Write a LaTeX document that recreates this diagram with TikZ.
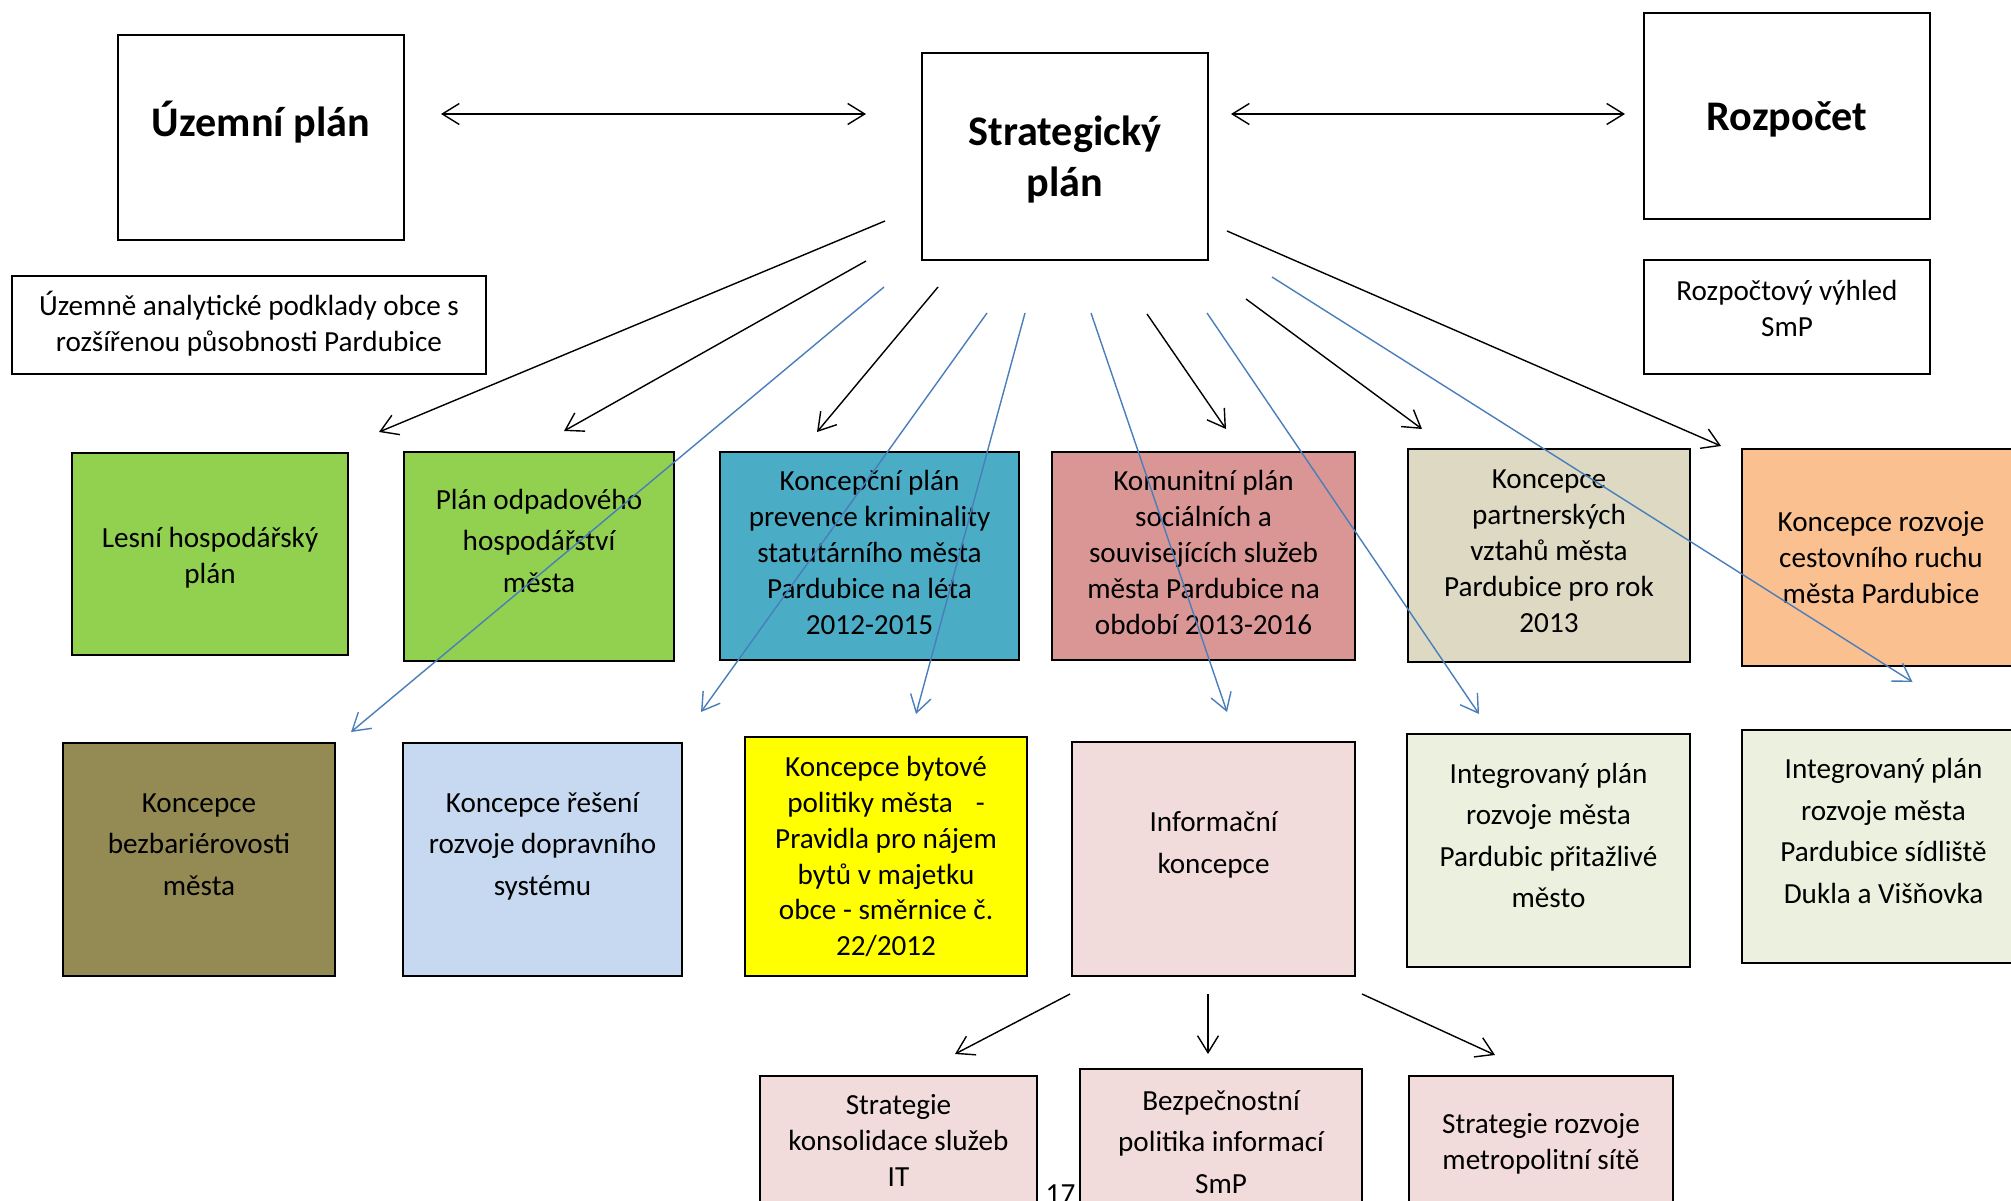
\documentclass[tikz,border=0pt]{standalone}
\usepackage{fontspec}
\setmainfont{Carlito}
\usetikzlibrary{arrows.meta}

\definecolor{leafgreen}{HTML}{92D050}
\definecolor{teal}{HTML}{4BACC6}
\definecolor{rose}{HTML}{D99694}
\definecolor{tan}{HTML}{DDD9C3}
\definecolor{apricot}{HTML}{FAC090}
\definecolor{olive}{HTML}{948A54}
\definecolor{skyblue}{HTML}{C6D9F1}
\definecolor{lemon}{HTML}{FFFF00}
\definecolor{blush}{HTML}{F2DCDB}
\definecolor{palegreen}{HTML}{EBF1DE}
\definecolor{linkblue}{HTML}{4A7EBB}

\newcommand{\boxtext}[2][0mm]{\raisebox{#1}[\height][\depth]{\begin{tabular}{@{}c@{}}#2\end{tabular}}}

\tikzset{
  plan/.style={draw, line width=0.2mm, inner sep=0pt, font=\fontsize{8.3}{10.2}\selectfont},
  loose/.style={font=\fontsize{8.3}{11.8}\selectfont},
  head/.style={font=\fontsize{12}{14.5}\selectfont\bfseries},
  barb/.tip={Straight Barb[length=1.7mm, width=2.1mm]},
  link/.style={line width=0.4pt, -barb},
  bluelink/.style={link, draw=linkblue},
}

\begin{document}
\begin{tikzpicture}[x=0.1mm, y=-0.1mm]
            \clip (0,0) rectangle (2011,1200);
            \fill [white] (0,0) rectangle (2011,1200);

            \node [plan, head, minimum width=28.6mm, minimum height=20.5mm] (uzemni) at (261,137.5) {\boxtext[1.1mm]{Územní plán}};
            \node [plan, head, minimum width=28.6mm, minimum height=20.7mm] (strat) at (1065,156.5) {\boxtext[-0.45mm]{Strategický\\ plán}};
            \node [plan, head, minimum width=28.6mm, minimum height=20.6mm] (rozpocet) at (1787,116) {\boxtext[-0.4mm]{Rozpočet}};
            \node [plan, minimum width=47.4mm, minimum height=9.8mm] (uap) at (249,325) {\boxtext[-0.1mm]{Územně analytické podklady obce s\\ rozšířenou působnosti Pardubice}};
            \node [plan, minimum width=28.6mm, minimum height=11.4mm] (vyhled) at (1787,317) {\boxtext[0.6mm]{Rozpočtový výhled\\ SmP}};

            \node [plan, fill=leafgreen, minimum width=27.6mm, minimum height=20.2mm] (lesni) at (210,554) {\boxtext[-0.4mm]{Lesní hospodářský\\ plán}};
            \node [plan, loose, fill=leafgreen, minimum width=27mm, minimum height=20.9mm] (odpad) at (539,556.5) {\boxtext[1.4mm]{Plán odpadového\\ hospodářství\\ města}};
            \node [plan, fill=teal, minimum width=29.9mm, minimum height=20.8mm] (prevence) at (869.5,556) {\boxtext[0.05mm]{Koncepční plán\\ prevence kriminality\\ statutárního města\\ Pardubice na léta\\ 2012-2015}};
            \node [plan, fill=rose, minimum width=30.3mm, minimum height=20.8mm] (komunit) at (1203.5,556) {\boxtext[0.05mm]{Komunitní plán\\ sociálních a\\ souvisejících služeb\\ města Pardubice na\\ období 2013-2016}};
            \node [plan, fill=tan, minimum width=28.2mm, minimum height=21.3mm] (partner) at (1549,555.5) {\boxtext[0.2mm]{Koncepce\\ partnerských\\ vztahů města\\ Pardubice pro rok\\ 2013}};
            \node [plan, fill=apricot, minimum width=27.8mm, minimum height=21.7mm] (cestov) at (1881,557.5) {\boxtext[-0.3mm]{Koncepce rozvoje\\ cestovního ruchu\\ města Pardubice}};

            \node [plan, loose, fill=olive, minimum width=27.2mm, minimum height=23.3mm] (bezbar) at (199,859.5) {\boxtext[1.4mm]{Koncepce\\ bezbariérovosti\\ města}};
            \node [plan, loose, fill=skyblue, minimum width=27.9mm, minimum height=23.3mm] (doprav) at (542.5,859.5) {\boxtext[1.4mm]{Koncepce řešení\\ rozvoje dopravního\\ systému}};
            \node [plan, fill=lemon, minimum width=28.2mm, minimum height=23.9mm] (bytove) at (886,856.5) {\boxtext[-0.25mm]{Koncepce bytové\\ politiky města\hspace{6.5pt}-\\ Pravidla pro nájem\\ bytů v majetku\\ obce - směrnice č.\\ 22/2012}};
            \node [plan, loose, fill=blush, minimum width=28.3mm, minimum height=23.4mm] (info) at (1213.5,859) {\boxtext[1.5mm]{Informační\\ koncepce}};
            \node [plan, loose, fill=palegreen, minimum width=28.3mm, minimum height=23.3mm] (integ1) at (1548.5,850.5) {\boxtext[1.35mm]{Integrovaný plán\\ rozvoje města\\ Pardubic přitažlivé\\ město}};
            \node [plan, loose, fill=palegreen, minimum width=28.3mm, minimum height=23.3mm] (integ2) at (1883.5,846.5) {\boxtext[1.4mm]{Integrovaný plán\\ rozvoje města\\ Pardubice sídliště\\ Dukla a Višňovka}};

            \node [plan, fill=blush, minimum width=27.7mm, minimum height=13mm] (konsol) at (898.5,1141) {\boxtext[-0.25mm]{Strategie\\ konsolidace služeb\\ IT}};
            \node [plan, loose, fill=blush, minimum width=28.2mm, minimum height=14.4mm] (bezpec) at (1221,1141) {\boxtext[-0.25mm]{Bezpečnostní\\ politika informací\\ SmP}};
            \node [plan, fill=blush, minimum width=26.4mm, minimum height=12.9mm] (metro) at (1541,1140.5) {\boxtext[-0.35mm]{Strategie rozvoje\\ metropolitní sítě}};

            \node [font=\fontsize{8.3}{10}\selectfont, inner sep=0pt, anchor=base] (pagenum) at (1060.5,1203) {17};

            \draw [line width=0.4pt, barb-barb] ([shift={(36,-23.5)}]uzemni.east) -- ([shift={(-55,-42.5)}]strat.west);
            \draw [line width=0.4pt, barb-barb] ([shift={(22,-42.5)}]strat.east) -- ([shift={(-18,-2)}]rozpocet.west);

            \draw [link] ([shift={(-36,-40)}]strat.south west) -- ([shift={(30,-20)}]lesni.north east);
            \draw [link] ([shift={(-55,0)}]strat.south west) -- ([shift={(25,-20)}]odpad.north);
            \draw [link] ([shift={(17,26)}]strat.south west) -- ([shift={(-52.5,-19)}]prevence.north);
            \draw [link] ([shift={(82,53)}]strat.south) -- ([shift={(22.5,-22)}]komunit.north);
            \draw [link] ([shift={(37,38)}]strat.south east) -- ([shift={(-127,-19)}]partner.north);
            \draw [link] ([shift={(18,-30)}]strat.south east) -- ([shift={(-20,-2)}]cestov.north west);

            \draw [bluelink] ([shift={(-37,26)}]strat.south west) -- ([shift={(15,-10)}]bezbar.north east);
            \draw [bluelink] ([shift={(66,52)}]strat.south west) -- ([shift={(18,-30)}]doprav.north east);
            \draw [bluelink] ([shift={(-40,52)}]strat.south) -- ([shift={(30,-22)}]bytove.north);
            \draw [bluelink] ([shift={(26,52)}]strat.south) -- ([shift={(13.5,-29)}]info.north);
            \draw [bluelink] ([shift={(-2,52)}]strat.south east) -- ([shift={(73,-19)}]integ1.north west);
            \draw [bluelink] ([shift={(63,16)}]strat.south east) -- ([shift={(29,-47)}]integ2.north);

            \draw [link] ([shift={(-1,17)}]info.south west) -- ([shift={(-83,-21)}]konsol.north east);
            \draw [link] ([shift={(-5.5,17)}]info.south) -- ([shift={(-13,-14)}]bezpec.north);
            \draw [link] ([shift={(6,17)}]info.south east) -- ([shift={(-46,-20)}]metro.north);
        \end{tikzpicture}
\end{document}
